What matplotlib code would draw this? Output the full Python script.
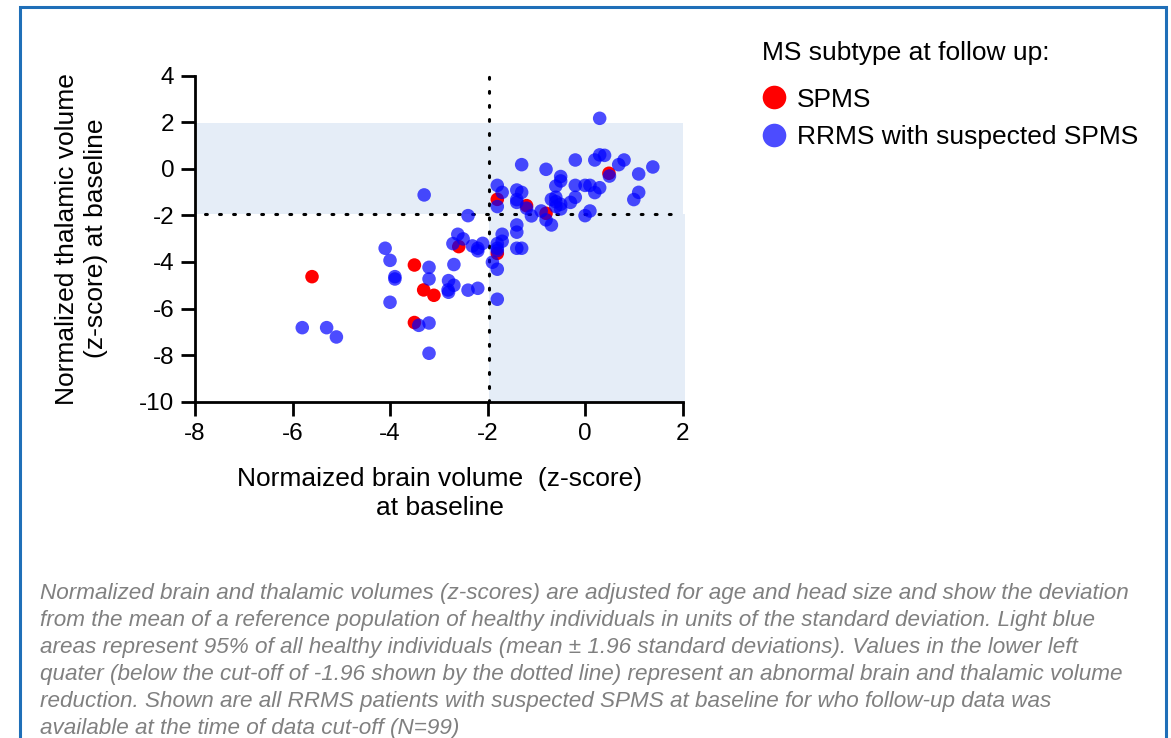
import matplotlib
matplotlib.use('Agg')
import matplotlib.pyplot as plt
from matplotlib.lines import Line2D
from matplotlib.patches import Rectangle

plt.rcParams['font.family'] = ['Liberation Sans', 'DejaVu Sans']
plt.rcParams['axes.unicode_minus'] = False

# SPMS at follow up (red)
spms_x = [-5.60, -3.50, -3.31, -3.10, -3.50, -2.59, -1.80, -1.80, -1.20, -0.80, 0.49]
spms_y = [-4.63, -4.13, -5.20, -5.43, -6.60, -3.34, -1.31, -3.63, -1.58, -1.91, -0.19]

# RRMS with suspected SPMS (blue)
rrms_x = [-5.80, -5.30, -5.10, -3.30, -4.10, -4.00, -3.90, -3.90, -4.00, -3.41,
          -3.20, -3.20, -3.20, -3.20, -2.80, -2.69, -2.80, -2.81, -2.69, -2.40,
          -2.20, -2.61, -2.50, -2.71, -2.40, -2.31, -2.20, -2.20, -2.10, -1.90,
          -1.80, -1.80, -1.80, -1.70, -1.80, -1.70, -1.70, -1.80, -1.80, -1.80,
          -1.40, -1.30, -1.40, -1.40, -1.30, -1.40, -1.40, -1.40, -1.30, -1.20,
          -1.10, -0.90, -0.80, -0.69, -0.80, -0.60, -0.50, -0.50, -0.69, -0.60,
          -0.60, -0.50, -0.50, -0.60, -0.30, -0.20, -0.20, -0.20, 0.00, 0.10,
          0.00, 0.10, 0.20, 0.30, 0.20, 0.30, 0.40, 0.30, 0.50, 0.69,
          0.80, 1.10, 1.39, 1.10, 1.00]
rrms_y = [-6.82, -6.82, -7.22, -1.12, -3.41, -3.93, -4.63, -4.73, -5.73, -6.72,
          -6.62, -7.92, -4.23, -4.73, -4.80, -5.00, -5.30, -5.20, -4.11, -5.21,
          -5.13, -2.81, -3.01, -3.21, -2.01, -3.31, -3.41, -3.52, -3.20, -4.01,
          -4.31, -5.60, -0.71, -1.01, -1.62, -2.81, -3.11, -3.21, -3.41, -3.51,
          -0.91, -1.01, -1.32, -1.44, 0.18, -2.41, -2.72, -3.41, -3.41, -1.69,
          -2.02, -1.81, -2.19, -2.41, -0.02, -0.74, -0.33, -0.52, -1.31, -1.22,
          -1.41, -1.52, -1.72, -1.62, -1.44, -1.22, -0.71, 0.38, -0.71, -0.71,
          -2.01, -1.81, -1.02, -0.81, 0.38, 0.60, 0.58, 2.17, -0.31, 0.18,
          0.38, -0.22, 0.08, -1.01, -1.32]

cutoff = -1.96
band_top = 1.96

caption = ("Normalized brain and thalamic volumes (z-scores) are adjusted for age and head size and show the deviation\n"
           "from the mean of a reference population of healthy individuals in units of the standard deviation. Light blue\n"
           "areas represent 95% of all healthy individuals (mean \u00b1 1.96 standard deviations). Values in the lower left\n"
           "quater (below the cut-off of -1.96 shown by the dotted line) represent an abnormal brain and thalamic volume\n"
           "reduction. Shown are all RRMS patients with suspected SPMS at baseline for who follow-up data was\n"
           "available at the time of data cut-off (N=99)")

fig = plt.figure(figsize=(11.71, 7.38), dpi=100)

# blue frame around the whole figure
fig.patches.append(Rectangle((20 / 1171, -0.05), 1146 / 1171, 1.05 - 7 / 738,
                             transform=fig.transFigure, fill=False,
                             edgecolor='#1f6fb8', linewidth=2.2))

ax = fig.add_axes([195 / 1171, 1 - 401.7 / 738, 490 / 1171, 326 / 738])

# light blue normal ranges (L-shaped)
band = '#e5edf7'
ax.fill_between([-8, 2], cutoff, band_top, color=band, lw=0, zorder=0)
ax.fill_between([cutoff, 2.05], -10, cutoff, color=band, lw=0, zorder=0)

# dotted cut-off lines
ax.plot([-7.8, 1.9], [cutoff, cutoff], color='black', lw=2.2,
        linestyle=(0, (0.6, 4)), dash_capstyle='round', zorder=1, clip_on=False)
ax.plot([cutoff, cutoff], [-10, 4], color='black', lw=2.2,
        linestyle=(0, (0.6, 4)), dash_capstyle='round', zorder=1, clip_on=False)

ax.scatter(spms_x, spms_y, s=95, color='#ff0000', edgecolors='none', zorder=2, clip_on=False)
ax.scatter(rrms_x, rrms_y, s=95, color='#0000ff', alpha=0.7, edgecolors='none', zorder=3, clip_on=False)

ax.set_xlim(-8, 2.05)
ax.set_ylim(-10, 4)
ax.spines['top'].set_visible(False)
ax.spines['right'].set_visible(False)
ax.spines['left'].set_linewidth(2)
ax.spines['bottom'].set_linewidth(2)
ax.spines['left'].set_bounds(-10, 4)
ax.spines['bottom'].set_bounds(-8, 2)
ax.set_facecolor('none')
ax.set_xticks([-8, -6, -4, -2, 0, 2])
ax.set_yticks([4, 2, 0, -2, -4, -6, -8, -10])
ax.tick_params(axis='both', length=10, width=2, labelsize=17.5, direction='out', pad=5)

ax.set_xlabel("Normaized brain volume  (z-score)\nat baseline", fontsize=19, labelpad=16, linespacing=1.3)
ax.set_ylabel("Normalized thalamic volume\n(z-score) at baseline", fontsize=19, labelpad=22, linespacing=1.3)

# legend
fig.text(762 / 1171, 1 - 53 / 738, 'MS subtype at follow up:', fontsize=19, va='center', ha='left')
handles = [Line2D([], [], marker='o', linestyle='none', markersize=17, color='#ff0000', markeredgewidth=0),
           Line2D([], [], marker='o', linestyle='none', markersize=17, color='#0000ff', alpha=0.7, markeredgewidth=0)]
fig.legend(handles, ['SPMS', 'RRMS with suspected SPMS'],
           loc='upper left', bbox_to_anchor=(752 / 1171, 1 - 77 / 738), frameon=False,
           fontsize=19, handletextpad=0.4, handlelength=0.9, labelspacing=0.5, borderaxespad=0)

fig.text(40 / 1171, 1 - 583 / 738, caption, fontsize=16.2, style='italic', color='#808080',
         va='top', ha='left', linespacing=1.37)

fig.savefig('out.png', dpi=100)
